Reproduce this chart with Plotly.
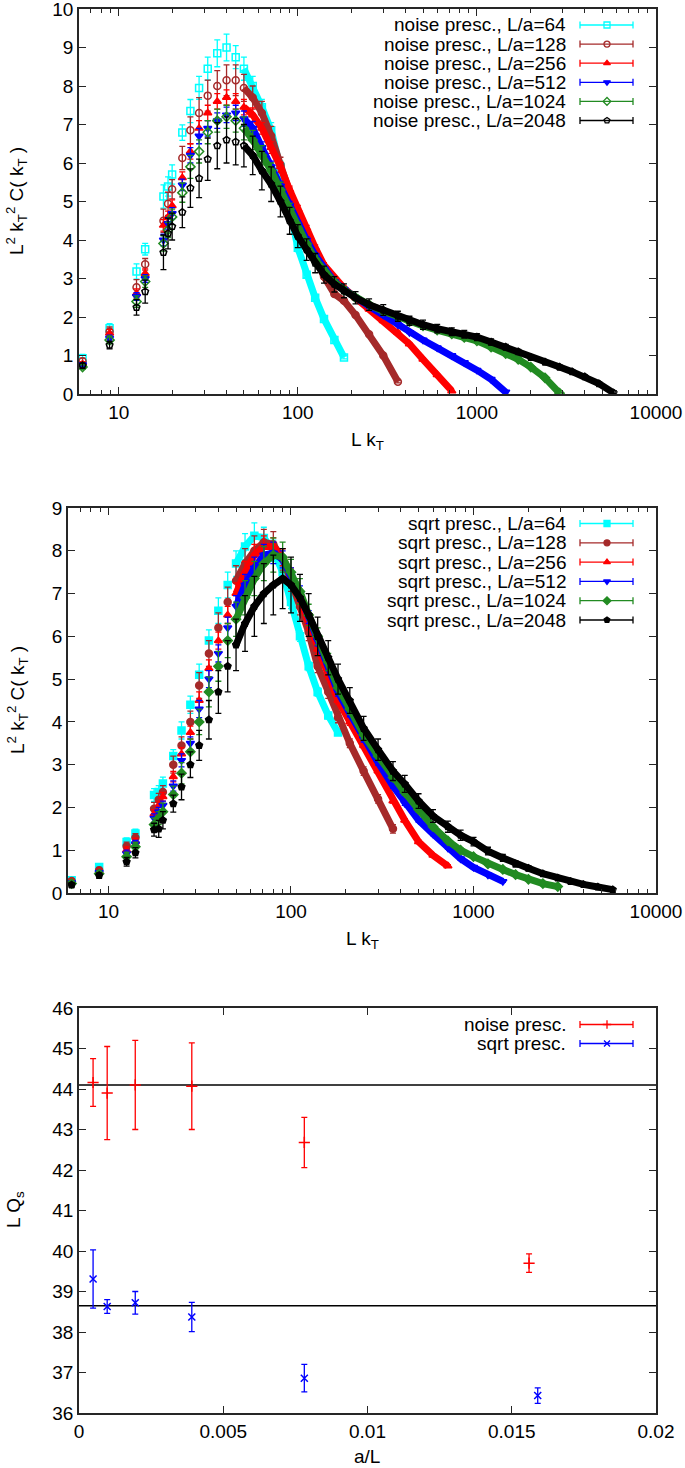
import math
import plotly.graph_objects as go

W, H = 685, 1468

# L k_T of the lattice momenta (same for every volume, longer lattices reach further)
lkt = [6.28, 8.89, 12.57, 14.05, 17.77, 18.85, 19.87, 22.65, 25.13, 28.1,
       31.4, 35.5, 40, 45, 50, 56, 63, 71, 80, 90,
       100, 112, 125, 140, 160, 181, 210, 250, 300, 362,
       420, 500, 600, 724, 850, 1000, 1200, 1448, 1700, 2000,
       2400, 2896, 3400, 4000, 4800, 5793]

sizes = [64, 128, 256, 512, 1024, 2048]

# --- noise prescription: L^2 k_T^2 C(k_T) ---
noise_64 = [0.93, 1.71, 3.18, 3.76, 5.13, 5.39, 5.70, 6.79, 7.35, 7.95, 8.45, 8.85, 9.0, 8.75, 8.45,
            8.0, 7.45, 6.85, 5.9, 4.85, 3.8, 3.1, 2.5, 1.95, 1.4, 0.95]
noise_64_err = [0.1, 0.12, 0.2, 0.15, 0.3, 0.25, 0.25, 0.2, 0.3, 0.3, 0.3, 0.35, 0.35, 0.3, 0.3,
                0.25, 0.2, 0.2, 0.15, 0.12, 0.1, 0.08, 0.06, 0.05, 0.05, 0.04]
noise_128 = [0.85, 1.62, 2.77, 3.37, 4.5, 4.94, 5.32, 6.13, 6.85, 7.3, 7.75, 8.0, 8.15, 8.15, 7.95,
             7.7, 7.3, 6.7, 5.95, 5.2, 4.6, 4.05, 3.55, 3.05, 2.6, 2.42, 2.05, 1.55, 1.0, 0.32]
noise_128_err = [0.08, 0.12, 0.2, 0.15, 0.3, 0.3, 0.25, 0.3, 0.35, 0.4, 0.4, 0.4, 0.4, 0.4, 0.35,
                 0.3, 0.3, 0.25, 0.2, 0.15, 0.12, 0.1, 0.08, 0.07, 0.06, 0.05, 0.04, 0.04, 0.03, 0.03]
noise_256 = [0.78, 1.58, 2.61, 3.13, 4.38, 4.6, 4.89, 5.62, 6.3, 6.9, 7.3, 7.6, 7.7, 7.6, 7.45,
             7.25, 6.9, 6.4, 5.9, 5.3, 4.8, 4.3, 3.8, 3.35, 3.0, 2.75, 2.5, 2.2, 1.9, 1.6,
             1.3, 0.9, 0.5, 0.08]
noise_256_err = [0.06, 0.1, 0.12, 0.12, 0.15, 0.15, 0.15, 0.15, 0.2, 0.2, 0.2, 0.2, 0.2, 0.2, 0.2,
                 0.18, 0.15, 0.15, 0.12, 0.1, 0.1, 0.08, 0.07, 0.06, 0.05, 0.05, 0.04, 0.04, 0.03, 0.03,
                 0.03, 0.03, 0.02, 0.02]
noise_512 = [0.76, 1.45, 2.53, 3.0, 4.0, 4.43, 4.69, 5.43, 6.2, 6.7, 6.9, 7.1, 7.25, 7.3, 7.15,
             6.9, 6.4, 5.9, 5.4, 4.9, 4.4, 4.0, 3.6, 3.25, 2.92, 2.72, 2.5, 2.28, 2.05, 1.8,
             1.6, 1.4, 1.2, 1.0, 0.82, 0.62, 0.38, 0.05]
noise_512_err = [0.05, 0.08, 0.1, 0.1, 0.15, 0.15, 0.15, 0.15, 0.2, 0.2, 0.2, 0.2, 0.2, 0.2, 0.2,
                 0.18, 0.15, 0.15, 0.12, 0.1, 0.1, 0.08, 0.07, 0.06, 0.05, 0.05, 0.05, 0.04, 0.04, 0.03,
                 0.03, 0.03, 0.03, 0.03, 0.02, 0.02, 0.02, 0.02]
noise_1024 = [0.70, 1.40, 2.40, 2.92, 3.91, 4.26, 4.6, 5.23, 5.9, 6.3, 6.8, 7.1, 7.2, 7.1, 6.9,
              6.6, 6.2, 5.8, 5.3, 4.8, 4.3, 3.9, 3.5, 3.2, 2.9, 2.7, 2.5, 2.32, 2.15, 2.0,
              1.88, 1.77, 1.66, 1.56, 1.47, 1.38, 1.22, 1.05, 0.9, 0.7, 0.42, 0.02]
noise_1024_err = [0.06, 0.1, 0.15, 0.15, 0.2, 0.2, 0.2, 0.25, 0.3, 0.3, 0.3, 0.3, 0.3, 0.3, 0.3,
                  0.25, 0.25, 0.2, 0.2, 0.15, 0.15, 0.12, 0.1, 0.1, 0.08, 0.08, 0.07, 0.06, 0.06, 0.05,
                  0.05, 0.05, 0.04, 0.04, 0.04, 0.04, 0.03, 0.03, 0.03, 0.03, 0.02, 0.02]
noise_2048 = [0.74, 1.27, 2.25, 2.66, 3.68, 4.17, 4.35, 4.72, 5.35, 5.6, 6.1, 6.45, 6.6, 6.55, 6.45,
              6.2, 5.8, 5.45, 5.0, 4.5, 4.1, 3.75, 3.4, 3.1, 2.85, 2.68, 2.5, 2.32, 2.18, 2.02,
              1.9, 1.8, 1.7, 1.62, 1.55, 1.48, 1.35, 1.22, 1.1, 0.95, 0.83, 0.7, 0.58, 0.45, 0.27,
              0.03]
noise_2048_err = [0.06, 0.1, 0.2, 0.3, 0.45, 0.4, 0.35, 0.4, 0.5, 0.5, 0.55, 0.6, 0.6, 0.6, 0.55,
                  0.5, 0.5, 0.45, 0.4, 0.35, 0.3, 0.28, 0.25, 0.22, 0.2, 0.18, 0.16, 0.15, 0.14, 0.13,
                  0.12, 0.12, 0.11, 0.1, 0.1, 0.09, 0.08, 0.07, 0.06, 0.06, 0.05, 0.05, 0.04, 0.04, 0.03,
                  0.02]

# --- sqrt prescription ---
sqrt_64 = [0.30, 0.61, 1.19, 1.39, 2.29, 2.36, 2.56, 3.2, 3.8, 4.4, 5.1, 5.9, 6.6, 7.2, 7.7,
           8.1, 8.35, 8.3, 8.0, 7.5, 6.8, 6.0, 5.3, 4.7, 4.15, 3.75]
sqrt_64_err = [0.05, 0.07, 0.1, 0.1, 0.15, 0.15, 0.15, 0.15, 0.2, 0.2, 0.25, 0.25, 0.3, 0.3, 0.3,
               0.3, 0.3, 0.25, 0.25, 0.2, 0.15, 0.12, 0.1, 0.1, 0.08, 0.06]
sqrt_128 = [0.28, 0.53, 1.09, 1.29, 1.97, 2.18, 2.36, 3.0, 3.45, 4.0, 4.85, 5.6, 6.2, 6.8, 7.3,
            7.7, 8.0, 8.2, 8.15, 7.8, 7.3, 6.7, 6.1, 5.3, 4.7, 4.1, 3.5, 2.85, 2.2, 1.5]
sqrt_128_err = [0.05, 0.07, 0.1, 0.1, 0.15, 0.15, 0.15, 0.2, 0.2, 0.25, 0.3, 0.3, 0.35, 0.35, 0.35,
                0.35, 0.35, 0.3, 0.3, 0.25, 0.25, 0.2, 0.2, 0.15, 0.15, 0.12, 0.1, 0.1, 0.1, 0.1]
sqrt_256 = [0.26, 0.5, 1.0, 1.2, 1.85, 2.05, 2.25, 2.72, 3.25, 3.75, 4.5, 5.25, 5.9, 6.5, 7.0,
            7.5, 7.9, 8.1, 8.1, 7.85, 7.4, 6.9, 6.3, 5.7, 5.1, 4.5, 4.0, 3.45, 2.85, 2.15,
            1.7, 1.2, 0.88, 0.63]
sqrt_256_err = [0.04, 0.05, 0.08, 0.08, 0.1, 0.1, 0.1, 0.12, 0.15, 0.15, 0.2, 0.2, 0.2, 0.2, 0.25,
                0.25, 0.25, 0.25, 0.2, 0.2, 0.2, 0.15, 0.15, 0.12, 0.1, 0.08, 0.08, 0.06, 0.05, 0.05,
                0.04, 0.04, 0.03, 0.03]
sqrt_512 = [0.24, 0.48, 0.92, 1.15, 1.75, 1.9, 2.05, 2.5, 3.1, 3.5, 4.3, 5.0, 5.6, 6.2, 6.7,
            7.2, 7.6, 7.9, 7.95, 7.8, 7.4, 7.0, 6.45, 5.9, 5.3, 4.7, 4.2, 3.6, 3.05, 2.5,
            2.1, 1.7, 1.38, 1.05, 0.8, 0.6, 0.42, 0.27]
sqrt_512_err = [0.04, 0.05, 0.08, 0.08, 0.1, 0.1, 0.1, 0.12, 0.15, 0.15, 0.2, 0.2, 0.2, 0.25, 0.25,
                0.25, 0.25, 0.25, 0.25, 0.2, 0.2, 0.18, 0.15, 0.12, 0.1, 0.1, 0.08, 0.07, 0.06, 0.05,
                0.05, 0.04, 0.04, 0.03, 0.03, 0.03, 0.02, 0.02]
sqrt_1024 = [0.22, 0.45, 0.85, 1.08, 1.6, 1.75, 1.9, 2.3, 2.8, 3.3, 4.0, 4.7, 5.3, 5.9, 6.4,
             6.9, 7.35, 7.7, 7.9, 7.85, 7.5, 7.05, 6.5, 6.0, 5.4, 4.8, 4.3, 3.7, 3.2, 2.7,
             2.35, 1.95, 1.55, 1.22, 1.0, 0.85, 0.68, 0.55, 0.43, 0.32, 0.22, 0.15]
sqrt_1024_err = [0.05, 0.06, 0.1, 0.1, 0.15, 0.15, 0.2, 0.2, 0.25, 0.3, 0.3, 0.35, 0.35, 0.4, 0.4,
                 0.4, 0.4, 0.4, 0.4, 0.35, 0.3, 0.3, 0.25, 0.2, 0.2, 0.15, 0.12, 0.1, 0.1, 0.08,
                 0.07, 0.06, 0.05, 0.05, 0.04, 0.04, 0.03, 0.03, 0.03, 0.02, 0.02, 0.02]
sqrt_2048 = [0.19, 0.41, 0.73, 0.94, 1.48, 1.5, 1.7, 2.09, 2.48, 3.0, 3.45, 4.05, 4.7, 5.3, 5.8,
             6.3, 6.7, 7.0, 7.2, 7.35, 7.2, 6.9, 6.5, 6.0, 5.5, 5.0, 4.5, 3.85, 3.35, 2.85,
             2.55, 2.15, 1.8, 1.55, 1.35, 1.2, 0.98, 0.82, 0.68, 0.58, 0.45, 0.35, 0.27, 0.2, 0.14,
             0.08]
sqrt_2048_err = [0.05, 0.06, 0.1, 0.12, 0.15, 0.2, 0.2, 0.2, 0.3, 0.3, 0.35, 0.45, 0.5, 0.6, 0.6,
                 0.65, 0.7, 0.7, 0.7, 0.7, 0.65, 0.55, 0.5, 0.45, 0.4, 0.35, 0.3, 0.28, 0.25, 0.22,
                 0.2, 0.17, 0.15, 0.13, 0.12, 0.1, 0.09, 0.08, 0.07, 0.06, 0.05, 0.05, 0.04, 0.04, 0.03,
                 0.03]

# --- L Q_s versus a/L ---
a_over_L_noise = [0.000488, 0.000977, 0.00195, 0.00391, 0.00781, 0.0156]
lqs_noise = [44.16, 43.90, 44.10, 44.07, 42.68, 39.70]
lqs_noise_err = [0.59, 1.15, 1.10, 1.07, 0.62, 0.23]
a_over_L_sqrt = [0.000488, 0.000977, 0.00195, 0.00391, 0.00781, 0.0159]
lqs_sqrt = [39.31, 38.63, 38.72, 38.37, 36.86, 36.43]
lqs_sqrt_err = [0.72, 0.17, 0.28, 0.36, 0.34, 0.19]
fit_noise = 44.10
fit_sqrt = 38.65

colors = ['#00ffff', '#a52a2a', '#ff0000', '#0000ff', '#228b22', '#000000']
noise_sets = [(noise_64, noise_64_err), (noise_128, noise_128_err), (noise_256, noise_256_err),
              (noise_512, noise_512_err), (noise_1024, noise_1024_err), (noise_2048, noise_2048_err)]
sqrt_sets = [(sqrt_64, sqrt_64_err), (sqrt_128, sqrt_128_err), (sqrt_256, sqrt_256_err),
             (sqrt_512, sqrt_512_err), (sqrt_1024, sqrt_1024_err), (sqrt_2048, sqrt_2048_err)]
noise_symbols = ['square-open', 'circle-open', 'triangle-up', 'triangle-down', 'diamond-open', 'pentagon-open']
sqrt_symbols = ['square', 'circle', 'triangle-up', 'triangle-down', 'diamond', 'pentagon']

# plot frames in pixels (left, right, top, bottom)
frames = [(79, 656, 9, 394), (68, 656, 508, 893), (79, 656, 1008, 1413)]
FONT = 'Liberation Sans, Arial, sans-serif'
FS = 19
AX = '#262626'

fig = go.Figure()


def add_set(sets, symbols, xa, ya):
    for (vals, errs), col, sym in zip(sets, colors, symbols):
        xs = lkt[:len(vals)]
        # dense momenta merge into a band
        band = [(x, v) for x, v in zip(xs, vals) if x >= 50]
        fig.add_trace(go.Scatter(x=[b[0] for b in band], y=[b[1] for b in band], mode='lines',
                                 line=dict(color=col, width=7), xaxis=xa, yaxis=ya,
                                 showlegend=False, hoverinfo='skip'))
        fig.add_trace(go.Scatter(x=xs, y=vals, mode='markers', xaxis=xa, yaxis=ya,
                                 marker=dict(symbol=sym, size=7, color=col, line=dict(color=col, width=1.5)),
                                 error_y=dict(type='data', array=errs, color=col, thickness=1.3, width=3),
                                 showlegend=False))


add_set(noise_sets, noise_symbols, 'x', 'y')
add_set(sqrt_sets, sqrt_symbols, 'x2', 'y2')

# panel 3
for fit in (fit_noise, fit_sqrt):
    fig.add_trace(go.Scatter(x=[0, 0.02], y=[fit, fit], mode='lines', line=dict(color='black', width=1.5),
                             xaxis='x3', yaxis='y3', showlegend=False))
fig.add_trace(go.Scatter(x=a_over_L_noise, y=lqs_noise, mode='markers', xaxis='x3', yaxis='y3',
                         marker=dict(symbol='cross-thin-open', size=8, color='#ff0000', line=dict(color='#ff0000', width=1.5)),
                         error_y=dict(type='data', array=lqs_noise_err, color='#ff0000', thickness=1.3, width=3),
                         showlegend=False))
fig.add_trace(go.Scatter(x=a_over_L_sqrt, y=lqs_sqrt, mode='markers', xaxis='x3', yaxis='y3',
                         marker=dict(symbol='x-thin-open', size=7, color='#0000ff', line=dict(color='#0000ff', width=1.5)),
                         error_y=dict(type='data', array=lqs_sqrt_err, color='#0000ff', thickness=1.3, width=3),
                         showlegend=False))

# gnuplot-style keys: right-aligned text, errorbar sample on the right
annotations = []
shapes = []
key_rows = [
    ([f'noise presc., L/a={n}' for n in sizes], colors, noise_symbols, 25, 19.1),
    ([f'sqrt presc., L/a={n}' for n in sizes], colors, sqrt_symbols, 523.5, 19.3),
    (['noise presc.', 'sqrt presc.'], ['#ff0000', '#0000ff'], ['cross-thin-open', 'x-thin-open'], 1024.5, 19),
]
for texts, cols, syms, y0, dy in key_rows:
    mx, my, mc, ms = [], [], [], []
    for i, (t, c, s) in enumerate(zip(texts, cols, syms)):
        yy = y0 + i * dy
        annotations.append(dict(x=568 / W, y=1 - yy / H, xref='paper', yref='paper', text=t, showarrow=False,
                                xanchor='right', yanchor='middle', font=dict(size=FS, family=FONT, color='black')))
        shapes.append(dict(type='line', xref='x4', yref='y4', x0=580, x1=633, y0=yy, y1=yy, line=dict(color=c, width=1.3)))
        for xe in (580, 633):
            shapes.append(dict(type='line', xref='x4', yref='y4', x0=xe, x1=xe, y0=yy - 3.5, y1=yy + 3.5,
                               line=dict(color=c, width=1.3)))
        mx.append(607)
        my.append(yy)
        mc.append(c)
        ms.append(s)
    fig.add_trace(go.Scatter(x=mx, y=my, mode='markers', xaxis='x4', yaxis='y4', showlegend=False,
                             marker=dict(symbol=ms, size=6, color=mc, line=dict(color=mc, width=1.3))))

# axis titles
ytitle = 'L<sup>2</sup> k<sub>T</sub><sup>2</sup> C( k<sub>T</sub> )'
for text, x, y, ang in [(ytitle, 17, 201, -90), (ytitle, 17, 700, -90), ('L Q<sub>s</sub>', 15, 1210, -90),
                        ('L k<sub>T</sub>', 367, 441, 0), ('L k<sub>T</sub>', 362, 940, 0), ('a/L', 367, 1456, 0)]:
    annotations.append(dict(x=x / W, y=1 - y / H, xref='paper', yref='paper', text=text, showarrow=False,
                            textangle=ang, xanchor='center', yanchor='middle',
                            font=dict(size=FS, family=FONT, color='black')))

common = dict(showline=True, linecolor=AX, linewidth=1.5, mirror='ticks', ticks='inside', ticklen=7,
              tickwidth=1.2, tickcolor=AX, showgrid=False, zeroline=False, automargin=False,
              ticklabeloverflow='allow', tickfont=dict(size=FS, family=FONT, color='black'))
minor_log = [m * 10 ** e for e in range(0, 4) for m in range(2, 10) if m * 10 ** e >= 6]
log_x = dict(type='log', range=[math.log10(6), 4], tickvals=[10, 100, 1000, 10000],
             ticktext=['10', '100', '1000', '10000'],
             minor=dict(tickvals=minor_log, ticks='inside', ticklen=4, tickcolor=AX, showgrid=False), **common)


def dom_x(f):
    return [f[0] / W, f[1] / W]


def dom_y(f):
    return [1 - f[3] / H, 1 - f[2] / H]


fig.update_layout(
    template='none',
    width=W, height=H, margin=dict(l=0, r=0, t=0, b=0, autoexpand=False),
    paper_bgcolor='white', plot_bgcolor='rgba(0,0,0,0)', showlegend=False,
    font=dict(family=FONT, size=FS, color='black'),
    xaxis=dict(domain=dom_x(frames[0]), anchor='y', **log_x),
    yaxis=dict(domain=dom_y(frames[0]), anchor='x', range=[0, 10], dtick=1, **common),
    xaxis2=dict(domain=dom_x(frames[1]), anchor='y2', **log_x),
    yaxis2=dict(domain=dom_y(frames[1]), anchor='x2', range=[0, 9], dtick=1, **common),
    xaxis3=dict(domain=dom_x(frames[2]), anchor='y3', range=[0, 0.02], dtick=0.005, **common),
    yaxis3=dict(domain=dom_y(frames[2]), anchor='x3', range=[36, 46], dtick=1, **common),
    xaxis4=dict(domain=[0, 1], anchor='y4', range=[0, W], visible=False, fixedrange=True),
    yaxis4=dict(domain=[0, 1], anchor='x4', range=[H, 0], visible=False, fixedrange=True),
    annotations=annotations, shapes=shapes,
)

# the page's default body margin would push the figure 8px off the window
fig.write_html('out.html', config={'displayModeBar': False},
               post_script="document.body.style.margin='0';document.body.style.overflow='hidden';")
